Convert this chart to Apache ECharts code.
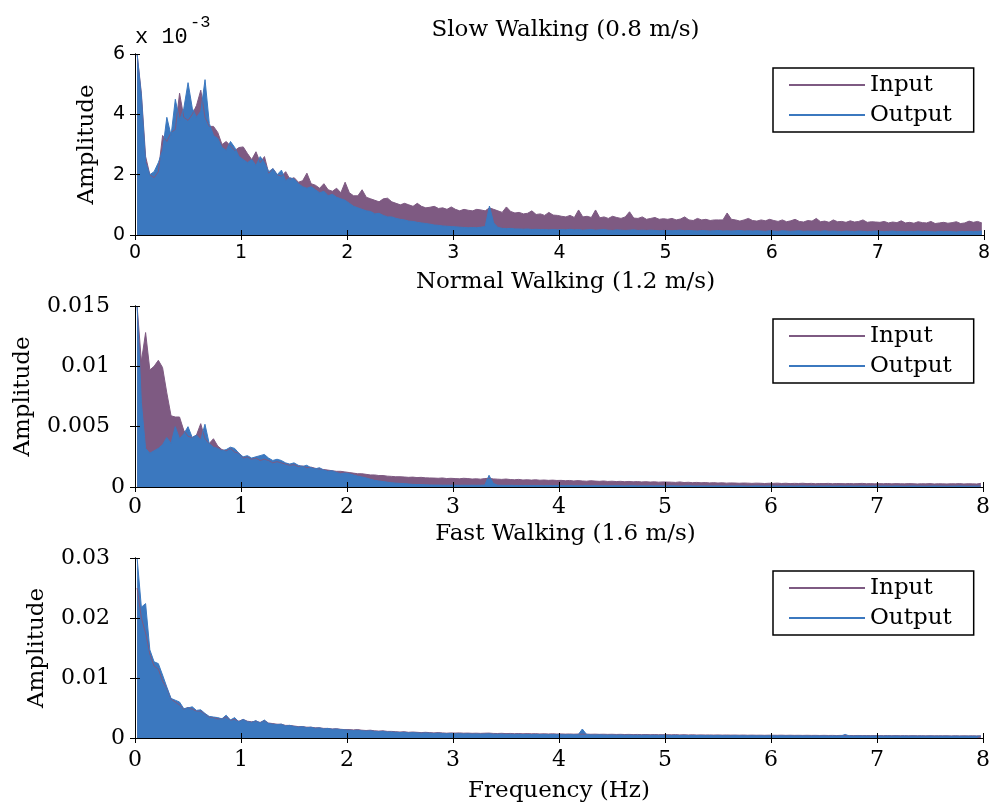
<!DOCTYPE html>
<html>
<head>
<meta charset="utf-8">
<title>Gait vibration spectra</title>
<script src="https://cdn.jsdelivr.net/npm/echarts@6/dist/echarts.min.js"></script>
<style>
  html, body { margin: 0; padding: 0; background: #ffffff; }
  #chart { width: 993px; height: 807px; }
</style>
</head>
<body>
<div id="chart"></div>
<script>
// Spectrum bins: each value is the peak amplitude inside a 0.04 Hz band, 0 to 8 Hz (200 bands).
// Amplitudes are stored in units of 1e-3.
const BIN_HZ = 0.04;
const FREQ_MIN = 0;
const FREQ_MAX = 8;
const seriesNames = ['Input', 'Output'];
const panelTitles = ['Slow Walking (0.8 m/s)', 'Normal Walking (1.2 m/s)', 'Fast Walking (1.6 m/s)'];
const axisNameY = 'Amplitude';
const axisNameX = 'Frequency (Hz)';

// y-axis ranges (units of 1e-3)
const slowYTicks = [0, 2, 4, 6];
const normalYTicks = [0, 5, 10, 15];
const fastYTicks = [0, 10, 20, 30];

const slowInput = [
  6,4.7,2.6,2.0,1.9,2.1,3.3,3.1,3.4,3.5,4.7,3.9,3.8,4.0,4.3,4.8,3.9,3.6,3.6,3.4,3.0,3.1,2.95,2.8,2.9,
  2.92,2.7,2.5,2.76,2.4,2.6,2.05,2.2,2.0,1.95,2.1,1.85,1.9,1.75,1.8,2.05,1.7,1.65,1.55,1.7,1.5,1.45,1.55,1.4,1.75,
  1.4,1.3,1.3,1.5,1.25,1.2,1.15,1.1,1.2,1.22,1.1,1.05,1.0,1.05,1.0,0.95,1.05,0.95,0.9,0.92,0.95,0.88,0.9,0.85,0.93,
  0.85,0.8,0.85,0.82,0.8,0.85,0.83,0.8,0.9,0.85,0.8,0.75,0.93,0.78,0.73,0.75,0.7,0.72,0.8,0.68,0.7,0.65,0.75,0.66,0.65,
  0.62,0.6,0.65,0.58,0.83,0.6,0.62,0.58,0.83,0.57,0.6,0.55,0.62,0.58,0.55,0.6,0.77,0.56,0.55,0.6,0.52,0.55,0.58,0.52,0.54,
  0.52,0.55,0.5,0.53,0.6,0.5,0.48,0.55,0.5,0.52,0.48,0.5,0.5,0.5,0.73,0.52,0.5,0.46,0.5,0.55,0.48,0.46,0.5,0.47,0.52,
  0.48,0.45,0.5,0.44,0.47,0.52,0.45,0.43,0.48,0.46,0.55,0.44,0.46,0.42,0.5,0.44,0.45,0.42,0.47,0.43,0.45,0.5,0.42,0.44,0.43,
  0.42,0.45,0.4,0.43,0.41,0.47,0.4,0.42,0.39,0.44,0.41,0.4,0.45,0.38,0.4,0.42,0.39,0.41,0.44,0.38,0.4,0.46,0.42,0.45,0.4
];
const slowOutput = [
  6,4.6,2.4,2.0,2.1,2.4,2.8,3.9,3.3,4.5,3.8,4.2,5.05,4.2,3.9,4.1,5.15,3.7,3.3,3.2,2.9,2.8,3.1,2.9,2.6,
  2.5,2.4,2.5,2.3,2.6,2.4,2.1,2.2,2.0,2.15,1.8,1.9,1.85,1.7,1.6,1.55,1.6,1.5,1.4,1.45,1.3,1.35,1.25,1.2,1.15,
  1.05,0.95,0.9,0.85,0.8,0.78,0.7,0.72,0.65,0.6,0.6,0.55,0.52,0.5,0.46,0.45,0.42,0.4,0.38,0.36,0.33,0.32,0.3,0.29,0.28,
  0.27,0.26,0.25,0.24,0.25,0.24,0.26,0.28,0.96,0.4,0.25,0.22,0.21,0.22,0.2,0.2,0.19,0.2,0.18,0.19,0.18,0.18,0.17,0.18,0.17,
  0.18,0.17,0.19,0.17,0.18,0.16,0.17,0.18,0.16,0.17,0.18,0.16,0.15,0.17,0.16,0.15,0.16,0.17,0.15,0.16,0.15,0.16,0.15,0.14,0.15,
  0.15,0.14,0.15,0.16,0.14,0.15,0.14,0.13,0.15,0.14,0.13,0.14,0.15,0.13,0.14,0.13,0.14,0.15,0.13,0.14,0.13,0.14,0.13,0.12,0.14,
  0.13,0.12,0.14,0.13,0.12,0.13,0.14,0.12,0.13,0.12,0.13,0.12,0.14,0.12,0.13,0.12,0.11,0.13,0.12,0.11,0.13,0.12,0.11,0.12,0.13,
  0.12,0.11,0.12,0.13,0.11,0.12,0.11,0.12,0.11,0.13,0.11,0.12,0.11,0.1,0.12,0.11,0.12,0.11,0.1,0.12,0.11,0.12,0.11,0.12,0.13
];

const normalInput = [
  15,10.4,12.8,9.7,10.0,10.5,9.9,7.8,5.9,5.8,5.8,4.7,4.2,4.1,4.3,5.25,4.0,3.6,4.0,3.4,3.1,3.0,3.2,2.9,2.8,
  2.4,2.5,2.3,2.4,2.2,2.3,2.2,2.0,2.1,2.0,1.9,1.8,1.85,1.7,1.75,1.6,1.65,1.55,1.5,1.45,1.4,1.35,1.3,1.3,1.25,
  1.2,1.15,1.1,1.1,1.05,1.0,1.0,0.95,0.95,0.9,0.88,0.85,0.85,0.83,0.8,0.82,0.78,0.8,0.76,0.75,0.74,0.72,0.75,0.7,0.72,
  0.7,0.68,0.72,0.7,0.66,0.68,0.65,0.7,0.72,0.67,0.65,0.63,0.66,0.62,0.6,0.63,0.58,0.6,0.57,0.6,0.56,0.58,0.55,0.57,0.54,
  0.55,0.52,0.54,0.5,0.53,0.5,0.48,0.52,0.49,0.47,0.5,0.46,0.48,0.45,0.47,0.44,0.46,0.43,0.45,0.42,0.44,0.41,0.43,0.4,0.42,
  0.41,0.4,0.38,0.42,0.37,0.39,0.36,0.38,0.35,0.37,0.34,0.36,0.33,0.35,0.32,0.34,0.33,0.31,0.33,0.32,0.3,0.32,0.31,0.29,0.31,
  0.3,0.32,0.29,0.31,0.28,0.3,0.29,0.31,0.28,0.3,0.27,0.29,0.28,0.3,0.27,0.29,0.28,0.27,0.29,0.27,0.28,0.3,0.27,0.28,0.26,
  0.28,0.27,0.29,0.26,0.28,0.27,0.26,0.28,0.27,0.25,0.27,0.26,0.28,0.25,0.27,0.26,0.25,0.27,0.26,0.28,0.25,0.27,0.26,0.25,0.3
];
const normalOutput = [
  15,7,3.2,2.8,3.0,3.2,3.5,4.1,3.6,5.0,4.0,4.4,5.0,4.1,4.3,3.9,5.2,3.6,3.3,3.2,3.0,3.1,3.3,3.2,2.8,
  2.5,2.6,2.4,2.5,2.6,2.7,2.4,2.2,2.3,2.2,2.0,1.9,2.0,1.8,1.7,1.8,1.6,1.5,1.6,1.4,1.3,1.35,1.2,1.1,1.15,
  1.1,1.0,0.9,0.83,0.75,0.65,0.55,0.5,0.45,0.4,0.35,0.32,0.3,0.28,0.25,0.22,0.2,0.2,0.18,0.17,0.16,0.16,0.15,0.15,0.15,
  0.15,0.14,0.15,0.14,0.15,0.14,0.15,0.16,0.97,0.3,0.15,0.14,0.13,0.14,0.13,0.12,0.13,0.12,0.13,0.12,0.12,0.11,0.12,0.11,0.12,
  0.12,0.11,0.12,0.11,0.1,0.11,0.12,0.1,0.11,0.1,0.11,0.1,0.1,0.11,0.1,0.09,0.1,0.11,0.09,0.1,0.09,0.1,0.09,0.1,0.09,
  0.09,0.1,0.09,0.08,0.09,0.1,0.09,0.08,0.09,0.08,0.09,0.08,0.09,0.08,0.08,0.09,0.08,0.09,0.08,0.07,0.08,0.09,0.08,0.07,0.08,
  0.08,0.07,0.08,0.07,0.08,0.07,0.08,0.09,0.07,0.08,0.07,0.08,0.07,0.08,0.07,0.07,0.08,0.07,0.08,0.07,0.07,0.08,0.07,0.07,0.08,
  0.07,0.08,0.07,0.07,0.08,0.07,0.06,0.07,0.08,0.07,0.07,0.06,0.07,0.08,0.07,0.07,0.06,0.07,0.07,0.08,0.07,0.06,0.07,0.07,0.08
];

const fastInput = [
  25,20,17.5,14,12,11.5,9.5,8.3,6.5,6.0,5.5,4.8,5.1,4.8,4.5,4.5,4.0,3.5,3.4,3.2,3.2,3.5,3.0,3.1,2.8,
  3.1,2.8,2.7,2.8,2.6,2.9,2.5,2.4,2.3,2.3,2.1,2.1,2.0,1.9,1.9,1.8,1.8,1.7,1.7,1.6,1.6,1.5,1.55,1.45,1.4,
  1.4,1.35,1.4,1.3,1.25,1.3,1.2,1.15,1.2,1.1,1.1,1.05,1.0,1.05,0.95,1.0,0.95,0.9,0.95,0.9,0.85,0.9,0.85,0.8,0.85,
  0.82,0.85,0.8,0.82,0.78,0.8,0.77,0.8,0.82,0.76,0.75,0.78,0.73,0.76,0.72,0.75,0.7,0.73,0.7,0.72,0.68,0.7,0.67,0.7,0.66,
  0.68,0.65,0.67,0.64,0.66,0.63,0.65,0.62,0.64,0.61,0.63,0.6,0.62,0.59,0.61,0.58,0.6,0.57,0.59,0.56,0.58,0.55,0.57,0.55,0.56,
  0.55,0.53,0.56,0.52,0.54,0.51,0.53,0.5,0.52,0.5,0.51,0.49,0.51,0.48,0.5,0.48,0.49,0.47,0.49,0.46,0.48,0.46,0.47,0.45,0.47,
  0.46,0.45,0.47,0.44,0.46,0.44,0.45,0.43,0.45,0.43,0.44,0.42,0.44,0.42,0.43,0.41,0.43,0.41,0.42,0.4,0.42,0.4,0.41,0.4,0.41,
  0.4,0.39,0.41,0.38,0.4,0.38,0.39,0.37,0.39,0.37,0.38,0.36,0.38,0.36,0.37,0.36,0.37,0.35,0.37,0.35,0.36,0.35,0.36,0.35,0.36
];
const fastOutput = [
  30,21.8,22.4,14.7,12.7,12.4,10.5,8.5,6.6,6.3,6.0,4.9,5.0,5.2,4.6,4.7,4.1,3.6,3.5,3.4,3.2,3.8,3.0,3.4,2.7,
  3.1,2.7,2.6,2.9,2.5,3.0,2.4,2.3,2.2,2.3,2.0,2.1,1.9,1.8,1.9,1.7,1.8,1.6,1.7,1.5,1.6,1.45,1.5,1.4,1.35,
  1.3,1.25,1.3,1.2,1.15,1.2,1.1,1.05,1.1,1.0,1.0,0.95,0.9,0.95,0.85,0.9,0.85,0.8,0.85,0.8,0.75,0.8,0.75,0.7,0.75,
  0.7,0.72,0.68,0.7,0.66,0.68,0.65,0.67,0.7,0.64,0.62,0.65,0.6,0.63,0.6,0.62,0.58,0.6,0.57,0.6,0.56,0.58,0.55,0.57,0.55,
  0.55,0.53,0.56,0.54,0.52,1.5,0.6,0.52,0.5,0.53,0.5,0.48,0.5,0.47,0.5,0.46,0.48,0.45,0.47,0.45,0.46,0.44,0.45,0.43,0.45,
  0.44,0.42,0.44,0.41,0.43,0.4,0.42,0.4,0.41,0.39,0.41,0.38,0.4,0.38,0.39,0.37,0.39,0.37,0.38,0.36,0.38,0.36,0.37,0.35,0.37,
  0.36,0.35,0.37,0.35,0.36,0.34,0.36,0.34,0.35,0.33,0.35,0.33,0.34,0.32,0.34,0.33,0.34,0.6,0.33,0.32,0.34,0.32,0.33,0.31,0.33,
  0.32,0.31,0.33,0.31,0.32,0.3,0.32,0.3,0.31,0.3,0.31,0.29,0.31,0.29,0.3,0.29,0.3,0.28,0.3,0.29,0.28,0.3,0.28,0.29,0.3
];

// ---- appearance ----
const INPUT_COLOR = '#7e5a82';
const OUTPUT_COLOR = '#3b78bf';
const SERIF = 'DejaVu Serif';
const SANS = 'DejaVu Sans';
const GRID_LEFT = 135;
const GRID_W = 851;

const panels = [
  { input: slowInput, output: slowOutput, yTicks: slowYTicks, top: 54, height: 181,
    font: SANS, fontSize: 19, scaleLabel: false, xLabelMargin: 9, nameGap: 36, legendTop: 68, titleTop: 14 },
  { input: normalInput, output: normalOutput, yTicks: normalYTicks, top: 306, height: 181,
    font: SERIF, fontSize: 22, scaleLabel: true, xLabelMargin: 9, nameGap: 100, legendTop: 319, titleTop: 266 },
  { input: fastInput, output: fastOutput, yTicks: fastYTicks, top: 558, height: 180,
    font: SERIF, fontSize: 22, scaleLabel: true, xLabelMargin: 11, nameGap: 86, legendTop: 571, titleTop: 518 }
];

// each band's peak is placed at the band centre
function toBins(values) {
  return values.map((v, k) => [(k + 0.5) * BIN_HZ, v]);
}

function spectrumSeries(name, values, color, axisIndex) {
  return {
    name, type: 'line', xAxisIndex: axisIndex, yAxisIndex: axisIndex,
    data: toBins(values), showSymbol: false, symbol: 'none', smooth: false,
    lineStyle: { color, width: 1 }, itemStyle: { color },
    areaStyle: { color, opacity: 1, origin: 'start' },
    emphasis: { disabled: true }, animation: false, clip: true
  };
}

const lineStyle = { color: '#000', width: 1 };
const grid = [], xAxis = [], yAxis = [], series = [], title = [], legend = [];

panels.forEach((p, i) => {
  grid.push({ left: GRID_LEFT, top: p.top, width: GRID_W, height: p.height, containLabel: false });
  const yMin = p.yTicks[0], yMax = p.yTicks[p.yTicks.length - 1];
  const yStep = p.yTicks[1] - p.yTicks[0];

  // bottom frequency axis (labelled) and top mirror axis (ticks only)
  xAxis.push({
    gridIndex: i, type: 'value', position: 'bottom', min: FREQ_MIN, max: FREQ_MAX, interval: 1, z: 5,
    axisLine: { lineStyle }, splitLine: { show: false },
    axisTick: { inside: true, length: 5, lineStyle },
    axisLabel: { color: '#000', fontFamily: p.font, fontSize: p.fontSize, margin: p.xLabelMargin },
    name: i === panels.length - 1 ? axisNameX : '',
    nameLocation: 'middle', nameGap: 42,
    nameTextStyle: { color: '#000', fontFamily: SERIF, fontSize: 23 }
  });
  xAxis.push({
    gridIndex: i, type: 'value', position: 'top', min: FREQ_MIN, max: FREQ_MAX, interval: 1, z: 5,
    axisLine: { lineStyle }, splitLine: { show: false },
    axisTick: { inside: true, length: 5, lineStyle }, axisLabel: { show: false }
  });

  // left amplitude axis (labelled) and right mirror axis (ticks only)
  yAxis.push({
    gridIndex: i, type: 'value', position: 'left', min: yMin, max: yMax, interval: yStep, z: 5,
    axisLine: { show: true, lineStyle }, splitLine: { show: false },
    axisTick: { show: true, inside: true, length: 5, lineStyle },
    axisLabel: p.scaleLabel ? {
      color: '#000', margin: 10,
      formatter: v => v === 0 ? '{z|0}' : '{n|' + String(v / 1000) + '}',
      rich: {
        z: { fontFamily: p.font, fontSize: p.fontSize, color: '#000' },
        n: { fontFamily: p.font, fontSize: p.fontSize, color: '#000', padding: [0, 15, 0, 0] }
      }
    } : { color: '#000', fontFamily: p.font, fontSize: p.fontSize, margin: 10 },
    name: axisNameY, nameLocation: 'middle', nameGap: p.nameGap,
    nameTextStyle: { color: '#000', fontFamily: SERIF, fontSize: 23 }
  });
  yAxis.push({
    gridIndex: i, type: 'value', position: 'right', min: yMin, max: yMax, interval: yStep, z: 5,
    axisLine: { show: true, lineStyle }, splitLine: { show: false },
    axisTick: { show: true, inside: true, length: 5, lineStyle }, axisLabel: { show: false }
  });

  series.push(spectrumSeries(seriesNames[0], p.input, INPUT_COLOR, 2 * i));
  series.push(spectrumSeries(seriesNames[1], p.output, OUTPUT_COLOR, 2 * i));

  title.push({
    text: panelTitles[i], left: GRID_LEFT + GRID_W / 2, textAlign: 'center', top: p.titleTop,
    textStyle: { color: '#000', fontFamily: SERIF, fontSize: 23, fontWeight: 'normal' }
  });

  legend.push({
    data: seriesNames, orient: 'vertical', left: 773, top: p.legendTop,
    icon: 'rect', itemWidth: 76, itemHeight: 2, itemGap: 0,
    padding: [2, 22, 2, 16], borderColor: '#000', borderWidth: 1.5, backgroundColor: '#fff',
    textStyle: { color: '#000', fontFamily: SERIF, fontSize: 23, lineHeight: 30 },
    selectedMode: false, z: 10
  });
});

const chart = echarts.init(document.getElementById('chart'), null, { renderer: 'canvas' });
chart.setOption({
  backgroundColor: '#fff',
  animation: false,
  title, legend, grid, xAxis, yAxis, series,
  graphic: [
    { type: 'text', left: 135, top: 26, style: { text: 'x 10', font: '22px "Liberation Mono"', fill: '#000' } },
    { type: 'text', left: 190, top: 14, style: { text: '-3', font: '17px "Liberation Mono"', fill: '#000' } }
  ]
});
</script>
</body>
</html>
